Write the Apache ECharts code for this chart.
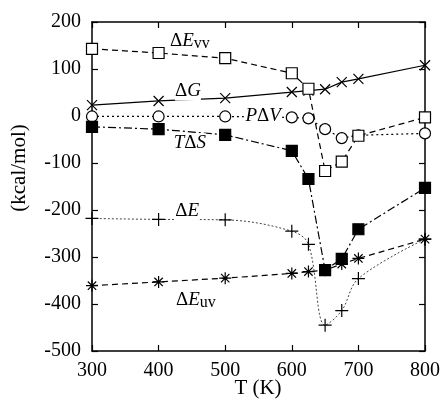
<!DOCTYPE html>
<html>
<head>
<meta charset="utf-8">
<script src="https://cdn.jsdelivr.net/npm/echarts@6/dist/echarts.min.js"></script>
<style>
  html, body { margin: 0; padding: 0; background: #fff; }
  #chart { width: 447px; height: 401px; }
</style>
</head>
<body>
<div id="chart"></div>
<script>
// temperatures (K)
const temps = [300, 400, 500, 600, 625, 650, 675, 700, 800]

// energies, kcal/mol
const dEvv = [143, 134, 123, 91, 58, -117, -97, -42, -3]
const dG = [23, 32, 38, 51, 54, 57, 72, 79, 108]
const pdV = [-1, -1, -1, -3, -5, -28, -47, -41, -37]
const tdS = [-23, -28, -40, -74, -134, -328, -304, -241, -153]
const dE = [-218, -220, -221, -245, -273, -445, -414, -346, -262]
const dEuv = [-361, -353, -345, -335, -331, -328, -315, -303, -262]

const xTicks = [300, 400, 500, 600, 700, 800]
const yTicks = [-500, -400, -300, -200, -100, 0, 100, 200]

const FONT = "'Times New Roman', 'Liberation Serif', Times, serif"

const chart = echarts.init(document.getElementById('chart'))

const pairs = ys => temps.map((t, i) => [t, ys[i]])

const SYM_X = 'path://M0,0L10,10M10,0L0,10'
const SYM_PLUS = 'path://M5,0L5,10M0,5L10,5'
const SYM_STAR = 'path://M5,0L5,10M0,5L10,5M1.5,1.5L8.5,8.5M8.5,1.5L1.5,8.5'

function lineSeries(name, ys, symbol, size, fill, lineType, extra) {
  return Object.assign({
    name,
    type: 'line',
    data: pairs(ys),
    symbol,
    symbolSize: size,
    showAllSymbol: true,
    animation: false,
    lineStyle: { color: '#000', width: 1.2, type: lineType },
    itemStyle: { color: fill, borderColor: '#000', borderWidth: 1.2 },
  }, extra || {})
}

const axisCommon = {
  type: 'value',
  axisLine: { show: true, onZero: false, lineStyle: { color: '#000', width: 1.5 } },
  axisTick: { show: true, inside: true, length: 6, lineStyle: { color: '#000', width: 1.2 } },
  splitLine: { show: false },
}

chart.setOption({
  backgroundColor: '#fff',
  animation: false,
  grid: { left: 92, right: 22, top: 22, bottom: 50, outerBoundsMode: 'none', containLabel: false },
  xAxis: [
    Object.assign({}, axisCommon, {
      min: 300, max: 800, interval: 100,
      axisLabel: { color: '#000', fontFamily: FONT, fontSize: 20, margin: 10,
        customValues: xTicks },
    }),
    Object.assign({}, axisCommon, {
      position: 'top', min: 300, max: 800, interval: 100,
      axisLabel: { show: false },
    }),
  ],
  yAxis: [
    Object.assign({}, axisCommon, {
      min: -500, max: 200, interval: 100,
      axisLabel: { color: '#000', fontFamily: FONT, fontSize: 20, margin: 11,
        customValues: yTicks },
    }),
    Object.assign({}, axisCommon, {
      position: 'right', min: -500, max: 200, interval: 100,
      axisLabel: { show: false },
    }),
  ],
  series: [
    lineSeries('dEuv', dEuv, SYM_STAR, 12, '#000', [6, 4]),
    lineSeries('dE', dE, SYM_PLUS, 13, '#000', [2, 2],
      { smooth: 0.35, lineStyle: { color: '#444', width: 1, type: [2, 2] } }),
    lineSeries('dG', dG, SYM_X, 10, '#000', 'solid'),
    lineSeries('pdV', pdV, 'circle', 11, '#fff', [2, 3]),
    lineSeries('dEvv', dEvv, 'rect', 11, '#fff', [6, 4]),
    lineSeries('tdS', tdS, 'rect', 11, '#000', [8, 3, 2, 3]),
  ],
})

// curve annotations, anchored in data coordinates (T, kcal/mol)
const notes = [
  { at: [447, 160], text: '{d|Δ}{i|E}{s|vv}' },
  { at: [444, 53], text: '{d|Δ}{i|G}' },
  { at: [557, 0], text: '{i|P}{d|Δ}{i|V}' },
  { at: [447, -57], text: '{i|T}{d|Δ}{i|S}' },
  { at: [443, -202], text: '{d|Δ}{i|E}' },
  { at: [456, -391], text: '{d|Δ}{i|E}{s|uv}' },
]

const rich = {
  d: { fontFamily: FONT, fontSize: 19, color: '#000' },
  i: { fontFamily: FONT, fontSize: 19, fontStyle: 'italic', color: '#000' },
  s: { fontFamily: FONT, fontSize: 16, color: '#000', padding: [6, 0, 0, 0] },
}

const graphics = notes.map(n => {
  const p = chart.convertToPixel({ gridIndex: 0 }, n.at)
  return {
    type: 'text', x: p[0], y: p[1], z: 100,
    style: { text: n.text, rich, align: 'center', verticalAlign: 'middle',
      backgroundColor: '#fff' },
  }
})

// axis titles
graphics.push({
  type: 'text', x: 19, y: 168, rotation: Math.PI / 2, z: 100,
  style: { text: '(kcal/mol)', fontFamily: FONT, fontSize: 21, fill: '#000',
    align: 'center', verticalAlign: 'middle' },
})
graphics.push({
  type: 'text', x: 258, y: 388, z: 100,
  style: { text: 'T (K)', fontFamily: FONT, fontSize: 21, fill: '#000',
    align: 'center', verticalAlign: 'middle' },
})

chart.setOption({ graphic: graphics })
</script>
</body>
</html>
